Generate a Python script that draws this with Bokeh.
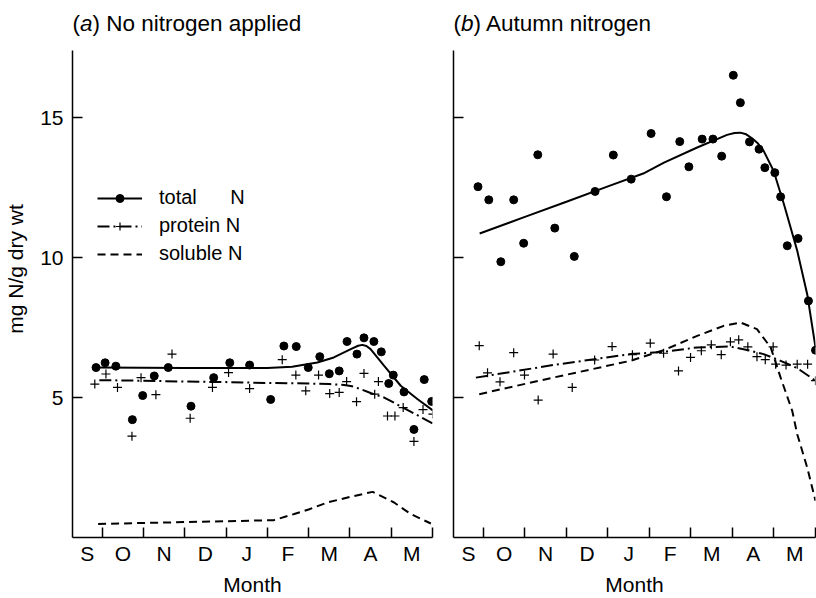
from bokeh.plotting import figure
from bokeh.layouts import row
from bokeh.models import Range1d, FixedTicker, Legend, LegendItem, Label
from bokeh.embed import file_html
from bokeh.resources import INLINE

FONT = "Liberation Sans"

# x in months since 1 September (1 = 1 Oct, ..., 9 = 1 Jun)
month_ticks = [1, 2, 3, 4, 5, 6, 7, 8, 9]
month_label_pos = [0.64, 1.5, 2.5, 3.5, 4.5, 5.5, 6.5, 7.5, 8.5]
month_labels = ["S", "O", "N", "D", "J", "F", "M", "A", "M"]
y_ticks = [5, 10, 15]

# ---- (a) No nitrogen applied ----
a_total_x = [0.85, 1.07, 1.33, 1.73, 1.98, 2.26, 2.60, 3.15, 3.70, 4.09, 4.57,
             5.08, 5.40, 5.70, 5.99, 6.27, 6.50, 6.74, 6.93, 7.17, 7.34, 7.58,
             7.76, 7.94, 8.05, 8.31, 8.55, 8.80, 8.98]
a_total_y = [6.07, 6.24, 6.12, 4.21, 5.07, 5.77, 6.07, 4.69, 5.71, 6.24, 6.16,
             4.93, 6.84, 6.82, 6.07, 6.46, 5.85, 5.95, 7.00, 6.55, 7.13, 7.00,
             6.63, 5.50, 5.80, 5.20, 3.86, 5.64, 4.86]
a_prot_x = [0.82, 1.09, 1.37, 1.72, 1.94, 2.30, 2.69, 3.13, 3.67, 4.06, 4.57,
            5.36, 5.69, 5.93, 6.24, 6.51, 6.74, 6.92, 7.16, 7.34, 7.60, 7.69,
            7.91, 8.09, 8.29, 8.55, 8.77, 9.01]
a_prot_y = [5.48, 5.84, 5.36, 3.62, 5.71, 5.10, 6.55, 4.26, 5.36, 5.89, 5.32,
            6.35, 5.80, 5.24, 5.80, 5.14, 5.18, 5.57, 4.85, 5.86, 5.12, 5.57,
            4.34, 4.34, 4.64, 3.43, 4.57, 4.41]
a_total_fit_x = [0.85, 2.0, 3.0, 4.0, 5.0, 5.6, 6.21, 6.61, 7.02, 7.2, 7.30, 7.40,
                 7.50, 7.83, 8.23, 8.64, 9.0]
a_total_fit_y = [6.07, 6.06, 6.05, 6.05, 6.05, 6.10, 6.25, 6.43, 6.73, 6.85, 6.88,
                 6.84, 6.73, 6.13, 5.42, 4.94, 4.55]
a_prot_fit_x = [0.93, 2.0, 3.0, 4.0, 5.0, 6.0, 6.5, 6.86, 7.05, 7.26, 7.5, 7.83, 8.31, 9.0]
a_prot_fit_y = [5.62, 5.60, 5.57, 5.55, 5.52, 5.50, 5.48, 5.45, 5.40, 5.30, 5.16, 5.00, 4.62, 4.08]
a_sol_fit_x = [0.90, 2.0, 3.0, 4.0, 5.16, 5.65, 6.0, 6.45, 7.0, 7.55, 8.07, 8.47, 8.96]
a_sol_fit_y = [0.48, 0.52, 0.55, 0.58, 0.62, 0.84, 1.00, 1.25, 1.45, 1.63, 1.25, 0.84, 0.50]

# ---- (b) Autumn nitrogen ----
b_total_x = [0.87, 1.13, 1.42, 1.73, 1.97, 2.31, 2.72, 3.19, 3.69, 4.13, 4.56,
             5.04, 5.41, 5.73, 5.95, 6.27, 6.53, 6.74, 7.02, 7.19, 7.41, 7.64,
             7.78, 8.02, 8.16, 8.32, 8.58, 8.83, 9.00]
b_total_y = [12.53, 12.06, 9.85, 12.06, 10.51, 13.67, 11.05, 10.04, 12.36, 13.66, 12.80,
             14.43, 12.17, 14.14, 13.24, 14.23, 14.23, 13.62, 16.51, 15.53, 14.13, 13.87,
             13.21, 13.03, 12.17, 10.42, 10.68, 8.45, 6.69]
b_prot_x = [0.90, 1.10, 1.40, 1.73, 1.99, 2.32, 2.68, 3.14, 3.68, 4.10, 4.59,
            5.02, 5.34, 5.70, 5.99, 6.25, 6.49, 6.73, 6.95, 7.15, 7.37, 7.59,
            7.79, 7.98, 8.04, 8.29, 8.56, 8.81, 9.00]
b_prot_y = [6.85, 5.88, 5.56, 6.60, 5.80, 4.91, 6.55, 5.36, 6.34, 6.82, 6.53,
            6.94, 6.58, 5.95, 6.43, 6.67, 6.88, 6.53, 6.99, 7.06, 6.81, 6.46,
            6.35, 6.81, 6.19, 6.16, 6.19, 6.19, 5.60]
b_total_fit_x = [0.91, 2.0, 3.0, 4.0, 4.85, 5.35, 6.15, 6.87, 7.05, 7.19, 7.33, 7.47,
                 7.61, 7.75, 7.99, 8.24, 8.56, 8.80, 9.0]
b_total_fit_y = [10.86, 11.45, 11.99, 12.54, 13.00, 13.39, 13.93, 14.38, 14.45, 14.46,
                 14.40, 14.26, 14.08, 13.81, 13.10, 11.90, 10.24, 8.69, 6.79]
b_prot_fit_x = [0.82, 2.68, 4.54, 5.34, 6.15, 6.95, 7.35, 7.75, 8.16, 8.56, 9.0]
b_prot_fit_y = [5.71, 6.16, 6.55, 6.63, 6.79, 6.82, 6.70, 6.55, 6.31, 6.05, 5.60]
b_sol_fit_x = [0.90, 2.68, 4.54, 5.34, 6.15, 6.79, 7.19, 7.59, 7.92, 8.16, 8.44, 8.56, 8.80, 9.0]
b_sol_fit_y = [5.12, 5.71, 6.31, 6.69, 7.20, 7.56, 7.68, 7.44, 6.79, 5.71, 4.52, 3.69, 2.50, 1.31]

legend_labels = ["total\u00a0\u00a0\u00a0\u00a0\u00a0\u00a0N", "protein N", "soluble N"]
titles = [("(", "a", ") No nitrogen applied"), ("(", "b", ") Autumn nitrogen")]

X_RANGE = (0.28, 9.0)
Y_RANGE = (0.0, 19.18)      # frame extends to the top of the canvas (room for titles)
Y_AXIS_BOUNDS = (0.0, 17.38)  # visible axis line extent
TITLE_Y = 18.35
TXT = "21px"


def make_panel(width, border_left, border_right, show_ylabels):
    p = figure(width=width, height=598, title=None,
               x_range=Range1d(*X_RANGE), y_range=Range1d(*Y_RANGE),
               output_backend="svg", toolbar_location=None,
               min_border_left=border_left, min_border_right=border_right,
               min_border_top=0, min_border_bottom=61)
    p.grid.visible = False
    p.outline_line_color = None
    p.background_fill_color = "white"
    p.border_fill_color = "white"

    xa = p.xaxis[0]
    xa.ticker = FixedTicker(ticks=month_label_pos, minor_ticks=month_ticks)
    xa.major_label_overrides = {pos: lab for pos, lab in zip(month_label_pos, month_labels)}
    xa.major_tick_line_color = None
    xa.major_tick_in = 0
    xa.major_tick_out = 0
    xa.minor_tick_in = 10
    xa.minor_tick_out = 0
    xa.minor_tick_line_color = "black"
    xa.minor_tick_line_width = 1.5
    xa.axis_line_width = 1.5
    xa.axis_line_color = "black"
    xa.major_label_standoff = 4
    xa.major_label_text_font = FONT
    xa.major_label_text_font_size = TXT
    xa.major_label_text_color = "black"
    xa.axis_label = "Month"
    xa.axis_label_standoff = 5
    xa.axis_label_text_font = FONT
    xa.axis_label_text_font_size = TXT
    xa.axis_label_text_font_style = "normal"
    xa.axis_label_text_color = "black"

    ya = p.yaxis[0]
    ya.bounds = Y_AXIS_BOUNDS
    ya.ticker = FixedTicker(ticks=y_ticks, minor_ticks=[])
    ya.major_tick_in = 10
    ya.major_tick_out = 0
    ya.major_tick_line_width = 1.5
    ya.major_tick_line_color = "black"
    ya.minor_tick_line_color = None
    ya.axis_line_width = 1.5
    ya.axis_line_color = "black"
    ya.major_label_text_font = FONT
    ya.major_label_text_font_size = TXT
    ya.major_label_text_color = "black"
    if show_ylabels:
        ya.major_label_standoff = 9
        ya.axis_label = "mg N/g dry wt"
        ya.axis_label_standoff = 10
        ya.axis_label_text_font = FONT
        ya.axis_label_text_font_size = TXT
        ya.axis_label_text_font_style = "normal"
        ya.axis_label_text_color = "black"
    else:
        ya.major_label_overrides = {t: "" for t in y_ticks}
        ya.major_label_standoff = 0
    return p


def add_title(p, parts):
    offsets = [0, 7.5, 19.9]
    styles = ["normal", "italic", "normal"]
    for txt, off, st in zip(parts, offsets, styles):
        p.add_layout(Label(x=X_RANGE[0], y=TITLE_Y, x_units="data", y_units="data",
                           text=txt, x_offset=off, text_font=FONT,
                           text_font_size="22.5px", text_font_style=st,
                           text_color="black", text_align="left",
                           text_baseline="alphabetic"))


def draw(p, tx, ty, px_, py_, tfx, tfy, pfx, pfy, sfx, sfy):
    r_tl = p.line(tfx, tfy, line_color="black", line_width=2)
    r_pl = p.line(pfx, pfy, line_color="black", line_width=2, line_dash="12 4 2 4")
    r_sl = p.line(sfx, sfy, line_color="black", line_width=2, line_dash="8 5")
    r_td = p.scatter(tx, ty, marker="circle", size=8, fill_color="black", line_color="black")
    r_pd = p.scatter(px_, py_, marker="cross", size=9, line_color="black", line_width=1.2)
    return r_tl, r_pl, r_sl, r_td, r_pd


pa = make_panel(443, 72, 11, True)
ra = draw(pa, a_total_x, a_total_y, a_prot_x, a_prot_y,
          a_total_fit_x, a_total_fit_y, a_prot_fit_x, a_prot_fit_y, a_sol_fit_x, a_sol_fit_y)
add_title(pa, titles[0])

legend = Legend(items=[
    LegendItem(label=legend_labels[0], renderers=[ra[0], ra[3]]),
    LegendItem(label=legend_labels[1], renderers=[ra[1], ra[4]]),
    LegendItem(label=legend_labels[2], renderers=[ra[2]]),
], location=(25, 272), glyph_width=45, glyph_height=20, label_height=20,
    label_standoff=17, spacing=5, padding=0, margin=0,
    border_line_color=None, background_fill_alpha=0,
    label_text_font=FONT, label_text_font_size="20px", label_text_color="black")
pa.add_layout(legend)

pb = make_panel(373, 10, 1, False)
draw(pb, b_total_x, b_total_y, b_prot_x, b_prot_y,
     b_total_fit_x, b_total_fit_y, b_prot_fit_x, b_prot_fit_y, b_sol_fit_x, b_sol_fit_y)
add_title(pb, titles[1])

layout = row(pa, pb)
open("out.html", "w").write(file_html(layout, INLINE))
